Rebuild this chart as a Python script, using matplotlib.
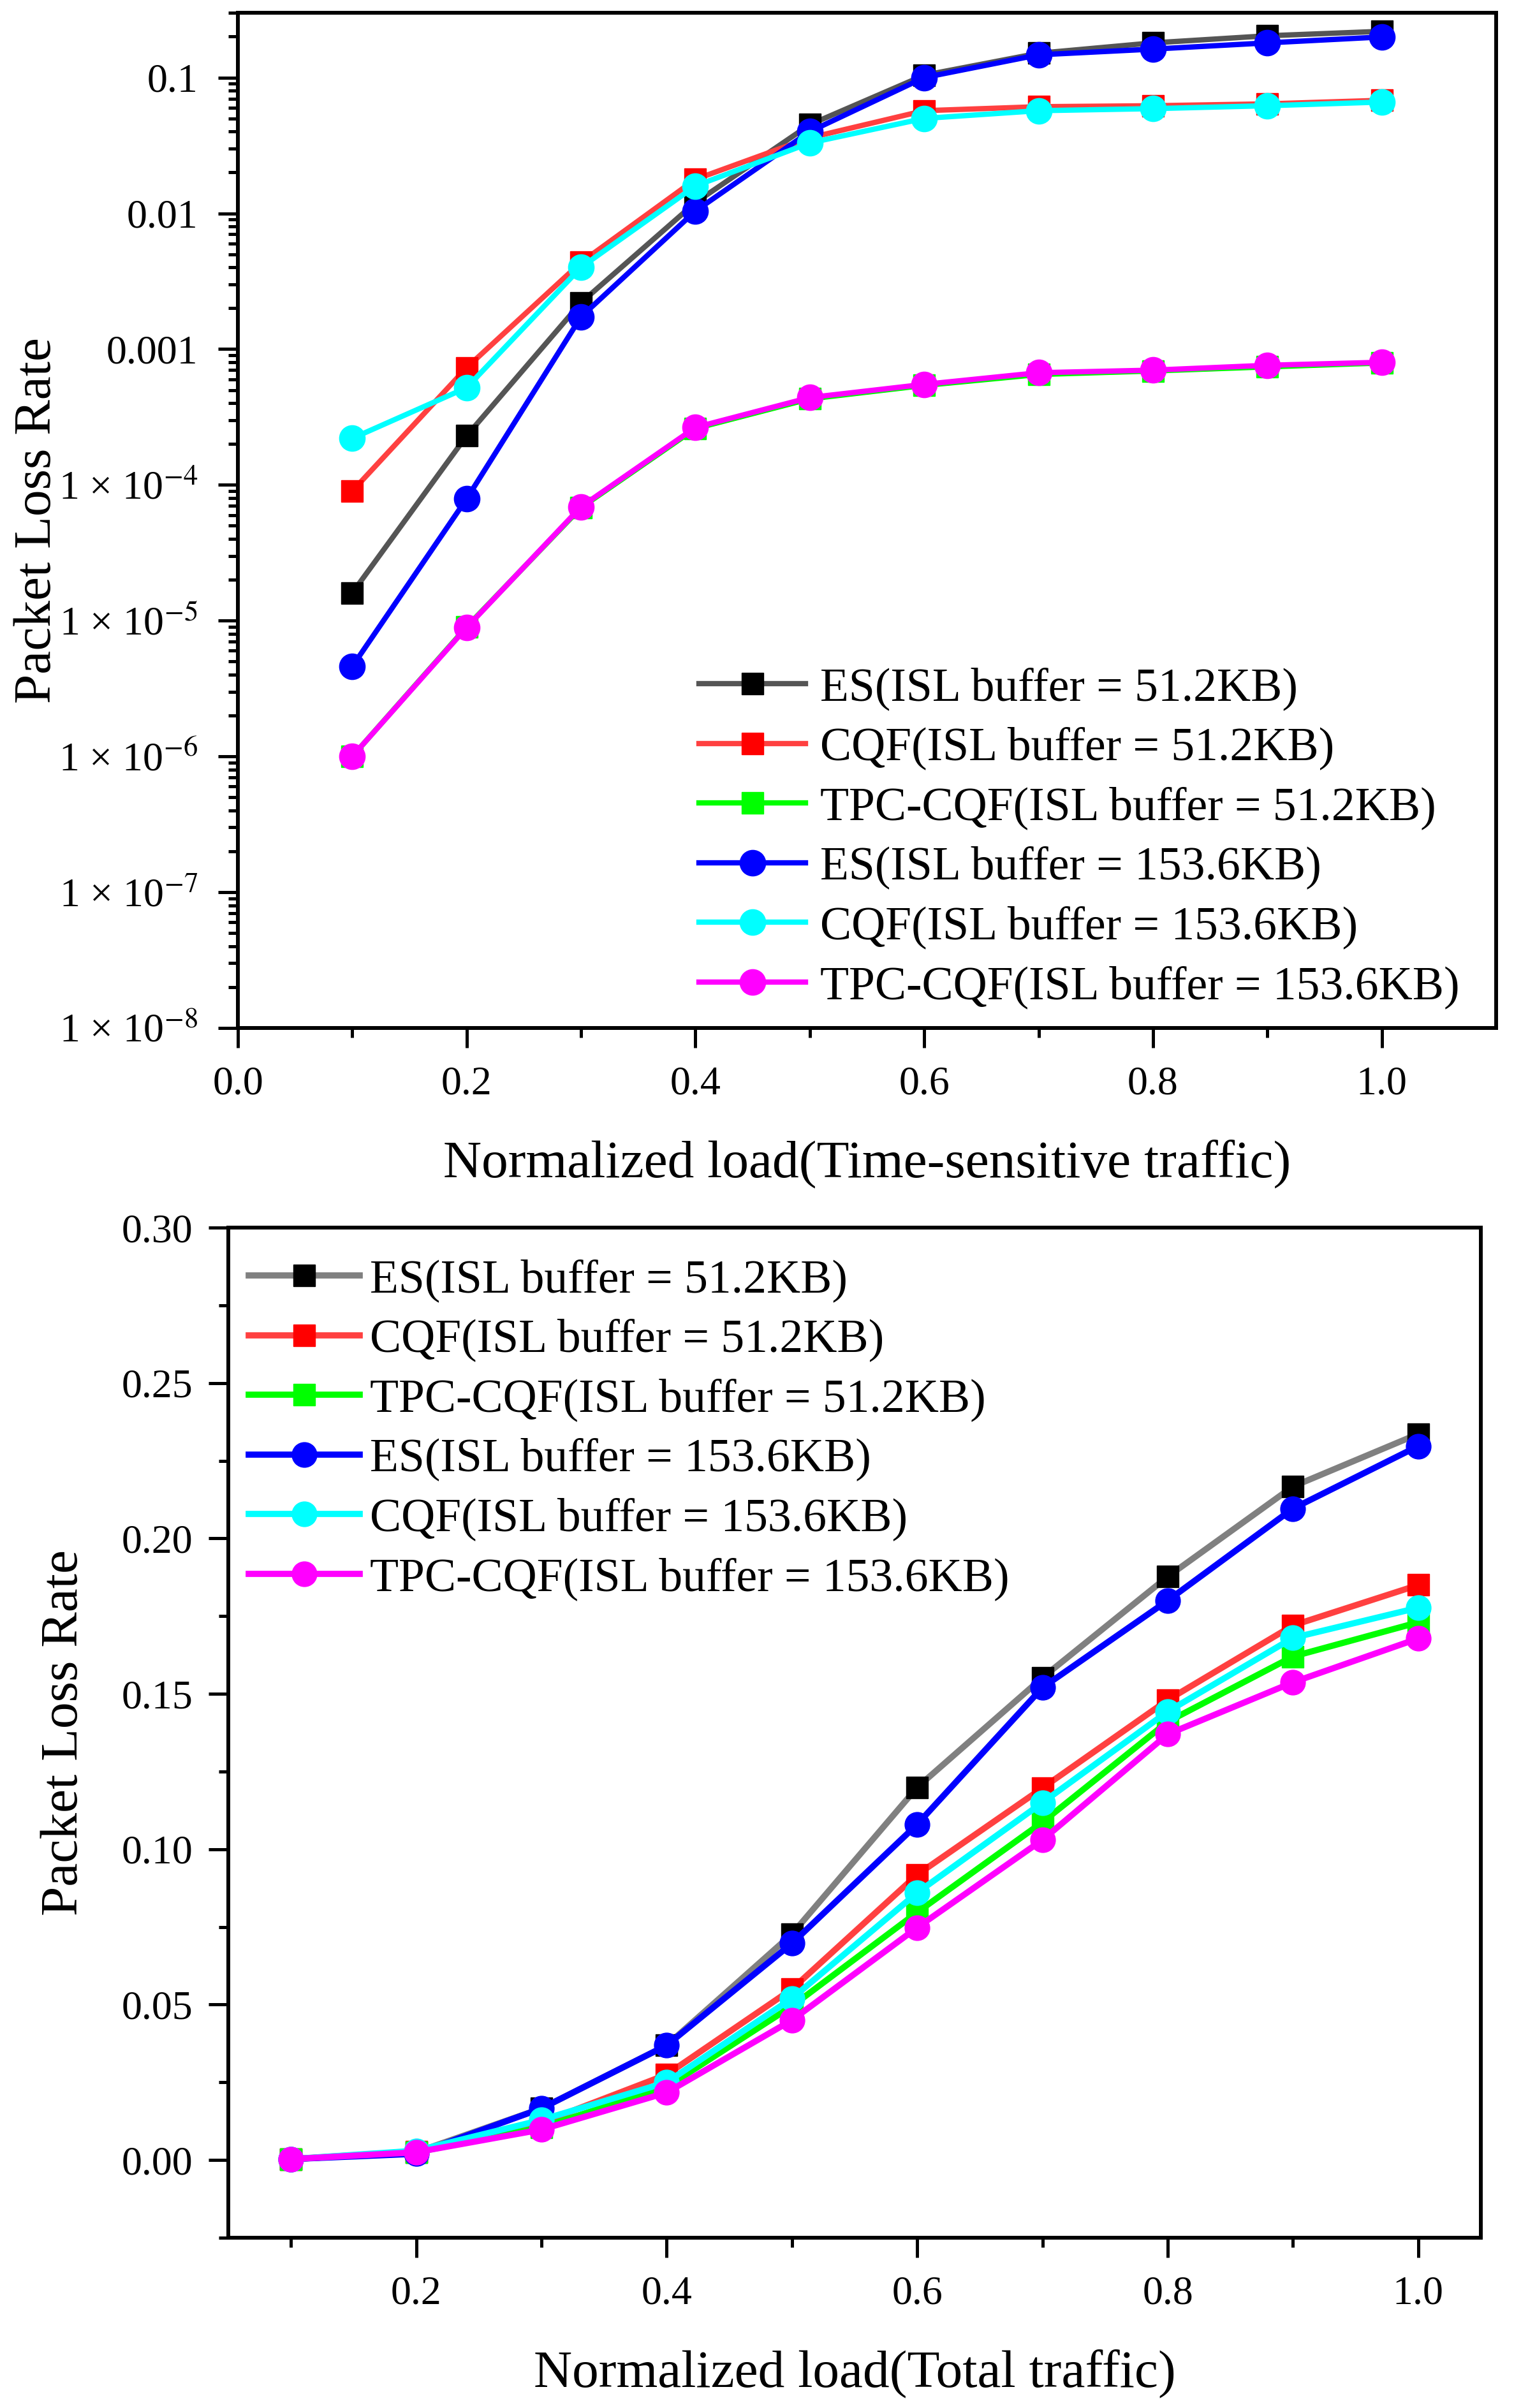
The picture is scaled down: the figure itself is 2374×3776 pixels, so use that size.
import numpy as np
import matplotlib
matplotlib.use("Agg")
import matplotlib.pyplot as plt
from matplotlib.ticker import FixedLocator, LogLocator, NullFormatter, FuncFormatter, MultipleLocator

plt.rcParams['font.family'] = ['Liberation Serif', 'DejaVu Serif']
plt.rcParams['mathtext.fontset'] = 'stix'

######## data
load = [0.1, 0.2, 0.3, 0.4, 0.5, 0.6, 0.7, 0.8, 0.9, 1.0]

labels = ["ES(ISL buffer = 51.2KB)", "CQF(ISL buffer = 51.2KB)",
          "TPC-CQF(ISL buffer = 51.2KB)", "ES(ISL buffer = 153.6KB)",
          "CQF(ISL buffer = 153.6KB)", "TPC-CQF(ISL buffer = 153.6KB)"]

# top panel: time-sensitive traffic (log scale)
ts_es_51 = [1.6e-5, 2.3e-4, 2.2e-3, 0.012, 0.045, 0.104, 0.151, 0.180, 0.203, 0.219]
ts_cqf_51 = [9.0e-5, 7.3e-4, 4.35e-3, 0.0178, 0.036, 0.057, 0.061, 0.062, 0.064, 0.068]
ts_tpc_51 = [1.0e-6, 9.0e-6, 6.8e-5, 2.6e-4, 4.3e-4, 5.4e-4, 6.5e-4, 6.9e-4, 7.4e-4, 7.9e-4]
ts_es_153 = [4.6e-6, 7.9e-5, 1.73e-3, 0.0104, 0.040, 0.100, 0.147, 0.162, 0.180, 0.199]
ts_cqf_153 = [2.2e-4, 5.2e-4, 4.0e-3, 0.0159, 0.033, 0.050, 0.057, 0.059, 0.062, 0.066]
ts_tpc_153 = [1.0e-6, 8.9e-6, 6.9e-5, 2.65e-4, 4.4e-4, 5.5e-4, 6.7e-4, 7.0e-4, 7.6e-4, 8.0e-4]

# bottom panel: total traffic (linear scale)
tot_es_51 = [0.0003, 0.0025, 0.0166, 0.0369, 0.0727, 0.1199, 0.1552, 0.1877, 0.2167, 0.2336]
tot_cqf_51 = [0.0003, 0.0028, 0.0120, 0.0275, 0.0550, 0.0918, 0.1197, 0.1480, 0.1720, 0.1850]
tot_tpc_51 = [0.0003, 0.0025, 0.0105, 0.0235, 0.0495, 0.0797, 0.1087, 0.1410, 0.1620, 0.1730]
tot_es_153 = [0.0003, 0.0020, 0.0166, 0.0369, 0.0697, 0.1080, 0.1520, 0.1800, 0.2096, 0.2297]
tot_cqf_153 = [0.0003, 0.0030, 0.0129, 0.0250, 0.0520, 0.0860, 0.1150, 0.1443, 0.1680, 0.1777]
tot_tpc_153 = [0.0003, 0.0025, 0.0098, 0.0217, 0.0450, 0.0748, 0.1030, 0.1370, 0.1537, 0.1678]

line_colors = ['#555555', '#ff4040', '#00ff00', '#0000ff', '#00ffff', '#ff00ff']
line_colors_bot = ['#808080', '#ff4040', '#00ff00', '#0000ff', '#00ffff', '#ff00ff']
mark_colors = ['#000000', '#ff0000', '#00ff00', '#0000ff', '#00ffff', '#ff00ff']
markers = ['s', 's', 's', 'o', 'o', 'o']
########

W, H = 2374, 3776
fig = plt.figure(figsize=(W / 100, H / 100), dpi=100)


def px_axes(l, t, r, b):  # pixel box -> figure fraction
    return fig.add_axes([l / W, 1 - b / H, (r - l) / W, (b - t) / H])


def style_axes(ax, ypad):
    for s in ax.spines.values():
        s.set_linewidth(4.3)
    ax.tick_params(which='both', direction='out', top=False, right=False, width=3.6,
                   labelsize=46)
    ax.tick_params(axis='x', which='both', pad=21)
    ax.tick_params(axis='y', which='both', pad=ypad)
    ax.tick_params(which='major', length=22)
    ax.tick_params(which='minor', length=11)


leg_kw = dict(frameon=False, fontsize=53, labelspacing=0.35, borderpad=0,
              borderaxespad=0, numpoints=1, bbox_transform=fig.transFigure,
              loc='upper left')

# ---- top panel
ax1 = px_axes(373, 20, 2346, 1612)
top_series = [ts_es_51, ts_cqf_51, ts_tpc_51, ts_es_153, ts_cqf_153, ts_tpc_153]
for i, ys in enumerate(top_series):
    ms = 25 if markers[i] == 's' else 29
    ax1.plot(load, ys, color=line_colors[i], lw=6, marker=markers[i], ms=ms,
             mfc=mark_colors[i], mec=mark_colors[i], label=labels[i])
ax1.set_yscale('log')
ax1.set_xlim(0, 1.1)
ax1.set_ylim(1e-8, 0.3)
ax1.xaxis.set_major_locator(FixedLocator([0.0, 0.2, 0.4, 0.6, 0.8, 1.0]))
ax1.xaxis.set_minor_locator(FixedLocator([0.1, 0.3, 0.5, 0.7, 0.9]))
ax1.xaxis.set_major_formatter(FuncFormatter(lambda v, p: '%.1f' % v))
ax1.yaxis.set_major_locator(LogLocator(base=10, numticks=20))
ax1.yaxis.set_minor_locator(LogLocator(base=10, subs=np.arange(2, 10), numticks=20))
ax1.yaxis.set_minor_formatter(NullFormatter())


def log_fmt(v, pos):
    e = int(round(np.log10(v)))
    if e >= -3:
        return {-1: '0.1', -2: '0.01', -3: '0.001'}.get(e, '')
    return '1 \u00d7 10$^{%d}$' % e


ax1.yaxis.set_major_formatter(FuncFormatter(log_fmt))
style_axes(ax1, ypad=23)
ax1.set_xlabel('Normalized load(Time-sensitive traffic)', fontsize=60, labelpad=41)
ax1.set_ylabel('Packet Loss Rate', fontsize=60)
ax1.yaxis.set_label_coords((97 - 373) / 1973, 0.5)
ax1.legend(bbox_to_anchor=(1096 / W, 1 - 1046 / H), handlelength=2.27,
           handletextpad=0.31, **leg_kw)

# ---- bottom panel
ax2 = px_axes(358, 1925, 2322, 3509)
bot_series = [tot_es_51, tot_cqf_51, tot_tpc_51, tot_es_153, tot_cqf_153, tot_tpc_153]
for i, ys in enumerate(bot_series):
    ms = 25 if markers[i] == 's' else 28
    ax2.plot(load, ys, color=line_colors_bot[i], lw=7, marker=markers[i], ms=ms,
             mfc=mark_colors[i], mec=mark_colors[i], label=labels[i])
ax2.set_xlim(0.05, 1.05)
ax2.set_ylim(-0.025, 0.30)
ax2.xaxis.set_major_locator(FixedLocator([0.2, 0.4, 0.6, 0.8, 1.0]))
ax2.xaxis.set_minor_locator(FixedLocator([0.1, 0.3, 0.5, 0.7, 0.9]))
ax2.xaxis.set_major_formatter(FuncFormatter(lambda v, p: '%.1f' % v))
ax2.yaxis.set_major_locator(FixedLocator([0.0, 0.05, 0.10, 0.15, 0.20, 0.25, 0.30]))
ax2.yaxis.set_minor_locator(MultipleLocator(0.025))
ax2.yaxis.set_major_formatter(FuncFormatter(lambda v, p: '%.2f' % v))
style_axes(ax2, ypad=18)
ax2.set_xlabel('Normalized load(Total traffic)', fontsize=60, labelpad=41)
ax2.set_ylabel('Packet Loss Rate', fontsize=60)
ax2.yaxis.set_label_coords((139 - 358) / 1964, 0.5)
ax2.legend(bbox_to_anchor=(390 / W, 1 - 1974 / H), handlelength=2.37,
           handletextpad=0.21, **leg_kw)

fig.savefig('out.png', dpi=100)
